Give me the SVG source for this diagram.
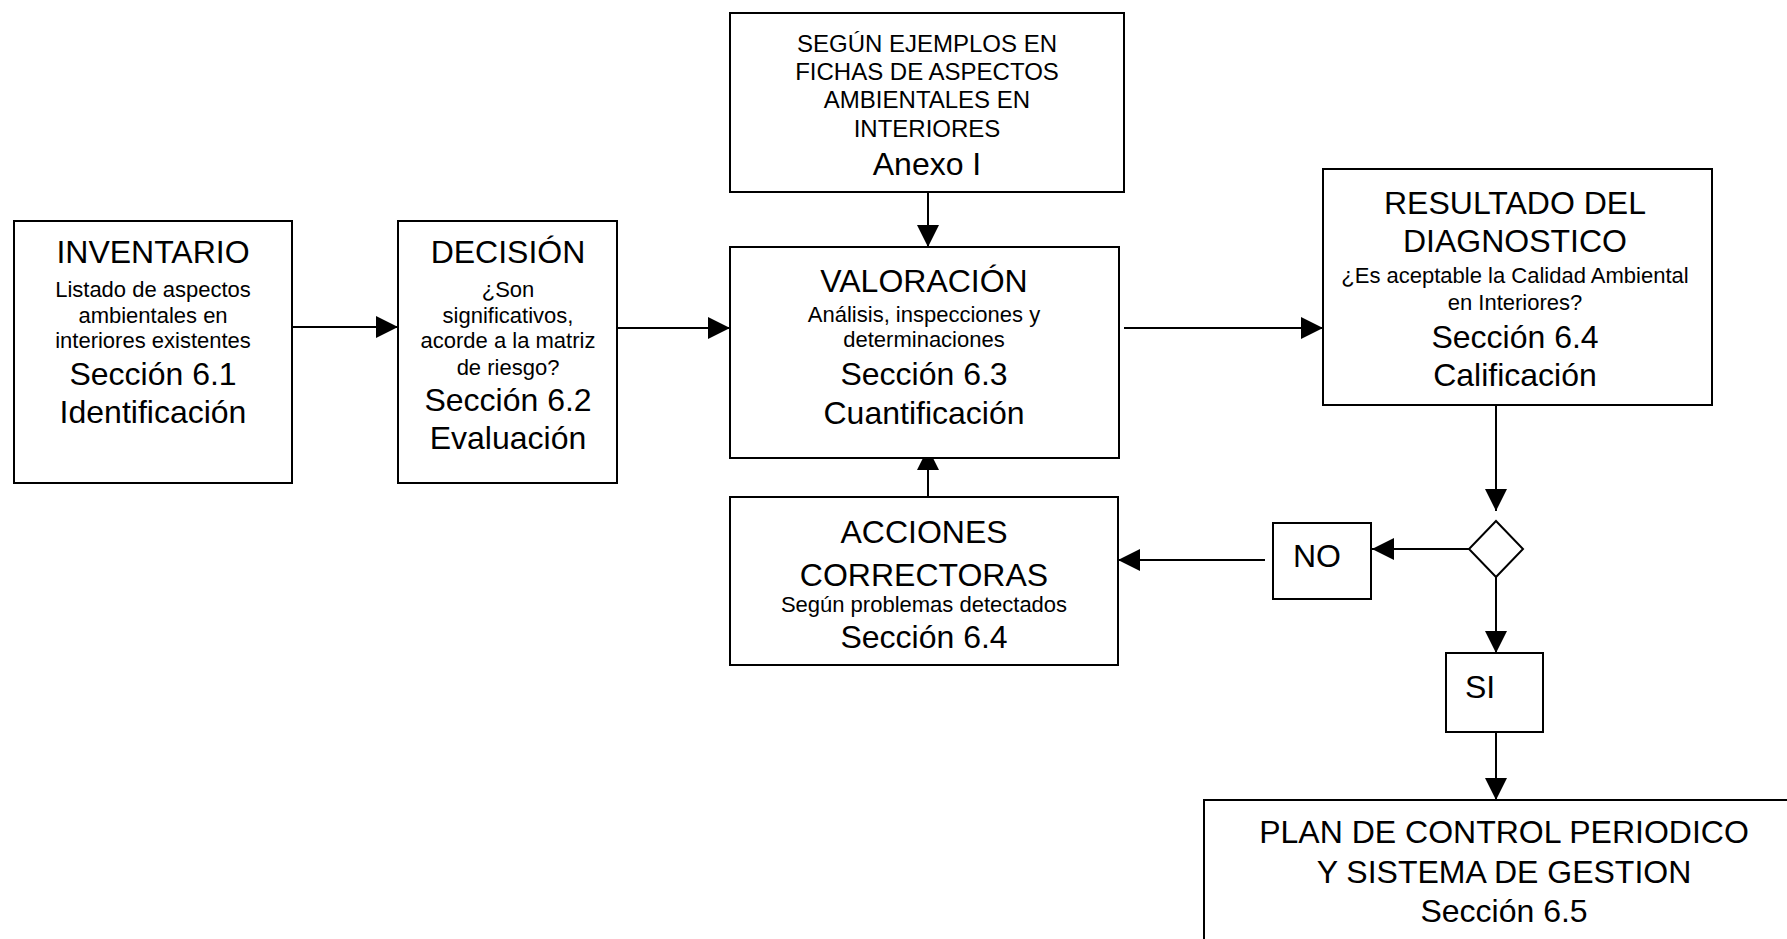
<svg xmlns="http://www.w3.org/2000/svg" width="1787" height="939" viewBox="0 0 1787 939">
<style>
.box{fill:#fff;stroke:#000;stroke-width:2}
.ln{fill:none;stroke:#000;stroke-width:2}
text{font-family:"Liberation Sans",Arial,sans-serif;text-anchor:middle;fill:#000}
.big{font-size:32px}
.md{font-size:24px}
.sm{font-size:22px}
</style>
<defs>
<marker id="ah" markerUnits="userSpaceOnUse" markerWidth="22" markerHeight="22" refX="22" refY="11" orient="auto">
<path d="M0,0 L22,11 L0,22 z" fill="#000"/>
</marker>
</defs>
<rect width="1787" height="939" fill="#fff"/>

<g id="connectors">
<line class="ln" x1="292" y1="327" x2="398" y2="327" marker-end="url(#ah)"/>
<line class="ln" x1="617" y1="328" x2="730" y2="328" marker-end="url(#ah)"/>
<line class="ln" x1="928" y1="192" x2="928" y2="247" marker-end="url(#ah)"/>
<line class="ln" x1="1124" y1="328" x2="1323" y2="328" marker-end="url(#ah)"/>
<line class="ln" x1="928" y1="497" x2="928" y2="448" marker-end="url(#ah)"/>
<line class="ln" x1="1496" y1="405" x2="1496" y2="511" marker-end="url(#ah)"/>
<line class="ln" x1="1469" y1="549" x2="1372" y2="549" marker-end="url(#ah)"/>
<line class="ln" x1="1265" y1="560" x2="1118" y2="560" marker-end="url(#ah)"/>
<line class="ln" x1="1496" y1="577" x2="1496" y2="653" marker-end="url(#ah)"/>
<line class="ln" x1="1496" y1="732" x2="1496" y2="800" marker-end="url(#ah)"/>
</g>

<g id="inventario">
<rect class="box" x="14" y="221" width="278" height="262"/>
<text class="big" x="153" y="263">INVENTARIO</text>
<text class="sm" x="153" y="297">Listado de aspectos</text>
<text class="sm" x="153" y="323">ambientales  en</text>
<text class="sm" x="153" y="348">interiores existentes</text>
<text class="big" x="153" y="385">Sección 6.1</text>
<text class="big" x="153" y="423">Identificación</text>
</g>

<g id="decision">
<rect class="box" x="398" y="221" width="219" height="262"/>
<text class="big" x="508" y="263">DECISIÓN</text>
<text class="sm" x="508" y="297">¿Son</text>
<text class="sm" x="508" y="323">significativos,</text>
<text class="sm" x="508" y="348">acorde a la matriz</text>
<text class="sm" x="508" y="375">de riesgo?</text>
<text class="big" x="508" y="411">Sección 6.2</text>
<text class="big" x="508" y="449">Evaluación</text>
</g>

<g id="anexo">
<rect class="box" x="730" y="13" width="394" height="179"/>
<text class="md" x="927" y="52">SEGÚN EJEMPLOS EN</text>
<text class="md" x="927" y="80">FICHAS DE ASPECTOS</text>
<text class="md" x="927" y="108">AMBIENTALES EN</text>
<text class="md" x="927" y="137">INTERIORES</text>
<text class="big" x="927" y="175">Anexo I</text>
</g>

<g id="valoracion">
<rect class="box" x="730" y="247" width="389" height="211"/>
<text class="big" x="924" y="292">VALORACIÓN</text>
<text class="sm" x="924" y="322">Análisis, inspecciones y</text>
<text class="sm" x="924" y="347">determinaciones</text>
<text class="big" x="924" y="385">Sección 6.3</text>
<text class="big" x="924" y="424">Cuantificación</text>
</g>

<g id="acciones">
<rect class="box" x="730" y="497" width="388" height="168"/>
<text class="big" x="924" y="543">ACCIONES</text>
<text class="big" x="924" y="586">CORRECTORAS</text>
<text class="sm" x="924" y="612">Según problemas detectados</text>
<text class="big" x="924" y="648">Sección 6.4</text>
</g>

<g id="resultado">
<rect class="box" x="1323" y="169" width="389" height="236"/>
<text class="big" x="1515" y="214">RESULTADO DEL</text>
<text class="big" x="1515" y="252">DIAGNOSTICO</text>
<text class="sm" x="1515" y="283">¿Es aceptable la Calidad Ambiental</text>
<text class="sm" x="1515" y="310">en Interiores?</text>
<text class="big" x="1515" y="348">Sección 6.4</text>
<text class="big" x="1515" y="386">Calificación</text>
</g>

<g id="decision-diamond">
<polygon class="box" points="1496,521 1523,549 1496,577 1469,549"/>
</g>

<g id="no">
<rect class="box" x="1273" y="523" width="98" height="76"/>
<text class="big" x="1317" y="567">NO</text>
</g>

<g id="si">
<rect class="box" x="1446" y="653" width="97" height="79"/>
<text class="big" x="1480" y="698">SI</text>
</g>

<g id="plan">
<rect class="box" x="1204" y="800" width="610" height="160"/>
<text class="big" x="1504" y="843">PLAN DE CONTROL PERIODICO</text>
<text class="big" x="1504" y="883">Y SISTEMA DE GESTION</text>
<text class="big" x="1504" y="922">Sección 6.5</text>
</g>
</svg>
